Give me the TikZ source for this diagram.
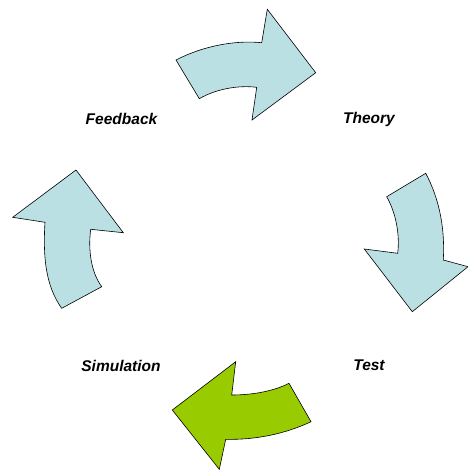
\documentclass[tikz,border=0pt]{standalone}
\usepackage{fontspec}
\setmainfont{Liberation Sans}
\definecolor{cyclblue}{HTML}{BBE0E3}
\definecolor{cyclgreen}{HTML}{99CC00}
\begin{document}
\begin{tikzpicture}[x=1pt,y=-1pt,
  bentarrow/.style={draw=black,line width=0.6pt,line join=miter},
  phase/.style={font=\fontsize{15.5}{18}\selectfont\bfseries\itshape,inner sep=0pt}]
\useasboundingbox (0,0) rectangle (468,471);

% top arrow (Feedback -> Theory)
\path[bentarrow,fill=cyclblue] (176,60)
  .. controls (203,46) and (235,40) .. (261.7,42.7)
  -- (267.3,9.3) -- (315.7,72.7) -- (252,120) -- (256.7,87.3)
  .. controls (238,85) and (216,89) .. (199.3,98.7) -- cycle;

% right arrow (Theory -> Test)
\path[bentarrow,fill=cyclblue] (425.7,173.3) -- (386.7,196.7)
  .. controls (396,213) and (400,235) .. (397.7,253.3)
  -- (364.3,249) -- (412.3,311.7) -- (468,266.7) -- (443.3,260)
  .. controls (445,230) and (440,200) .. cycle;

% bottom arrow (Test -> Simulation)
\path[bentarrow,fill=cyclgreen] (289,383.3) -- (311,421.7)
  .. controls (285,434) and (255,440) .. (225.7,439.3)
  -- (219.3,469.3) -- (172.3,410) -- (235.7,361.7) -- (231.7,395)
  .. controls (250,395) and (272,392) .. cycle;

% left arrow (Simulation -> Feedback)
\path[bentarrow,fill=cyclblue] (61.7,308.3) -- (101.7,286.7)
  .. controls (91,272) and (88,250) .. (90.7,229.3)
  -- (123.3,232.7) -- (76,170) -- (12.7,217.3) -- (45,222.3)
  .. controls (43,255) and (45,285) .. cycle;

\node[phase] (feedback) at (121.5,119) {Feedback};
\node[phase] (theory) at (369,119) {Theory};
\node[phase] (simulation) at (121,365.5) {Simulation};
\node[phase] (test) at (369,365.5) {Test};
\end{tikzpicture}
\end{document}
